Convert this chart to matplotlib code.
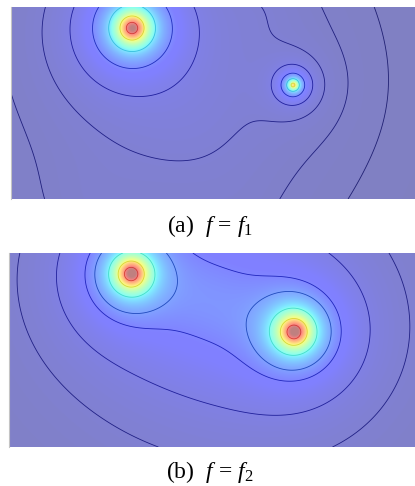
import numpy as np
import matplotlib
matplotlib.use("Agg")
import matplotlib.pyplot as plt

W, H = 415, 486

# sources of each field: centre (px in the figure), peak value, width
a_x = [132, 293, 195, 265, 90, 240]
a_y = [28, 85, 125, 5, 210, 215]
a_peak = [1.0, 0.7, 0.021, 0.012, 0.012, 0.006]
a_width = [16, 5.6, 90, 45, 60, 50]
a_levels = [0.0115, 0.02, 0.037, 0.07, 0.15, 0.33, 0.65, 0.9]
a_box = [10.5, 415, 7, 199]
a_label = r"(a)  $f\,=\,f_{\mathrm{1}}$"

b_x = [131, 294, 212]
b_y = [274, 332, 303]
b_peak = [1.0, 1.0, 0.1]
b_width = [16, 16.5, 70]
b_levels = [0.034, 0.065, 0.136, 0.195, 0.375, 0.65, 0.9]
b_box = [8.5, 415, 253, 447]
b_label = r"(b)  $f\,=\,f_2$"

plt.rcParams["font.family"] = "Liberation Serif"
plt.rcParams["mathtext.fontset"] = "custom"
plt.rcParams["mathtext.rm"] = "Liberation Serif"
plt.rcParams["mathtext.it"] = "Liberation Serif:italic"


def field(X, Y, xs, ys, peaks, widths):
    Z = np.zeros_like(X)
    for x0, y0, p, s in zip(xs, ys, peaks, widths):
        Z += p / (1 + ((X - x0) ** 2 + (Y - y0) ** 2) / s ** 2)
    return Z


def panel(fig, box, xs, ys, peaks, widths, levels):
    l, r, t, b = box
    ax = fig.add_axes([l / W, 1 - b / H, (r - l) / W, (b - t) / H])
    X, Y = np.meshgrid(np.linspace(l, r, 810), np.linspace(t, b, 390))
    Z = field(X, Y, xs, ys, peaks, widths)
    ax.imshow(Z, extent=[l, r, b, t], cmap="jet", vmin=0, vmax=1, alpha=0.5,
              aspect="auto", interpolation="bilinear")
    # dark lines far out, close to the fill colour near the peaks
    line_colors = []
    for v in levels:
        base = np.array(plt.cm.jet(v))[:3]
        line_colors.append(tuple(base * 0.65 if v < 0.21 else 0.7 * base + 0.12))
    ax.contour(X, Y, Z, levels=levels, colors=line_colors, linewidths=0.6, alpha=0.75)
    ax.set_xlim(l, r)
    ax.set_ylim(b, t)
    ax.set_xticks([])
    ax.set_yticks([])
    for s in ["top", "right", "bottom"]:
        ax.spines[s].set_visible(False)
    ax.spines["left"].set_color("#c4c4c4")
    ax.spines["left"].set_linewidth(0.8)
    return ax


fig = plt.figure(figsize=(W / 100, H / 100), dpi=100)
panel(fig, a_box, a_x, a_y, a_peak, a_width, a_levels)
panel(fig, b_box, b_x, b_y, b_peak, b_width, b_levels)
fig.text(210 / W, 1 - 226 / H, a_label, ha="center", va="center", fontsize=17)
fig.text(210 / W, 1 - 472 / H, b_label, ha="center", va="center", fontsize=17)
fig.savefig("out.png", dpi=100)
